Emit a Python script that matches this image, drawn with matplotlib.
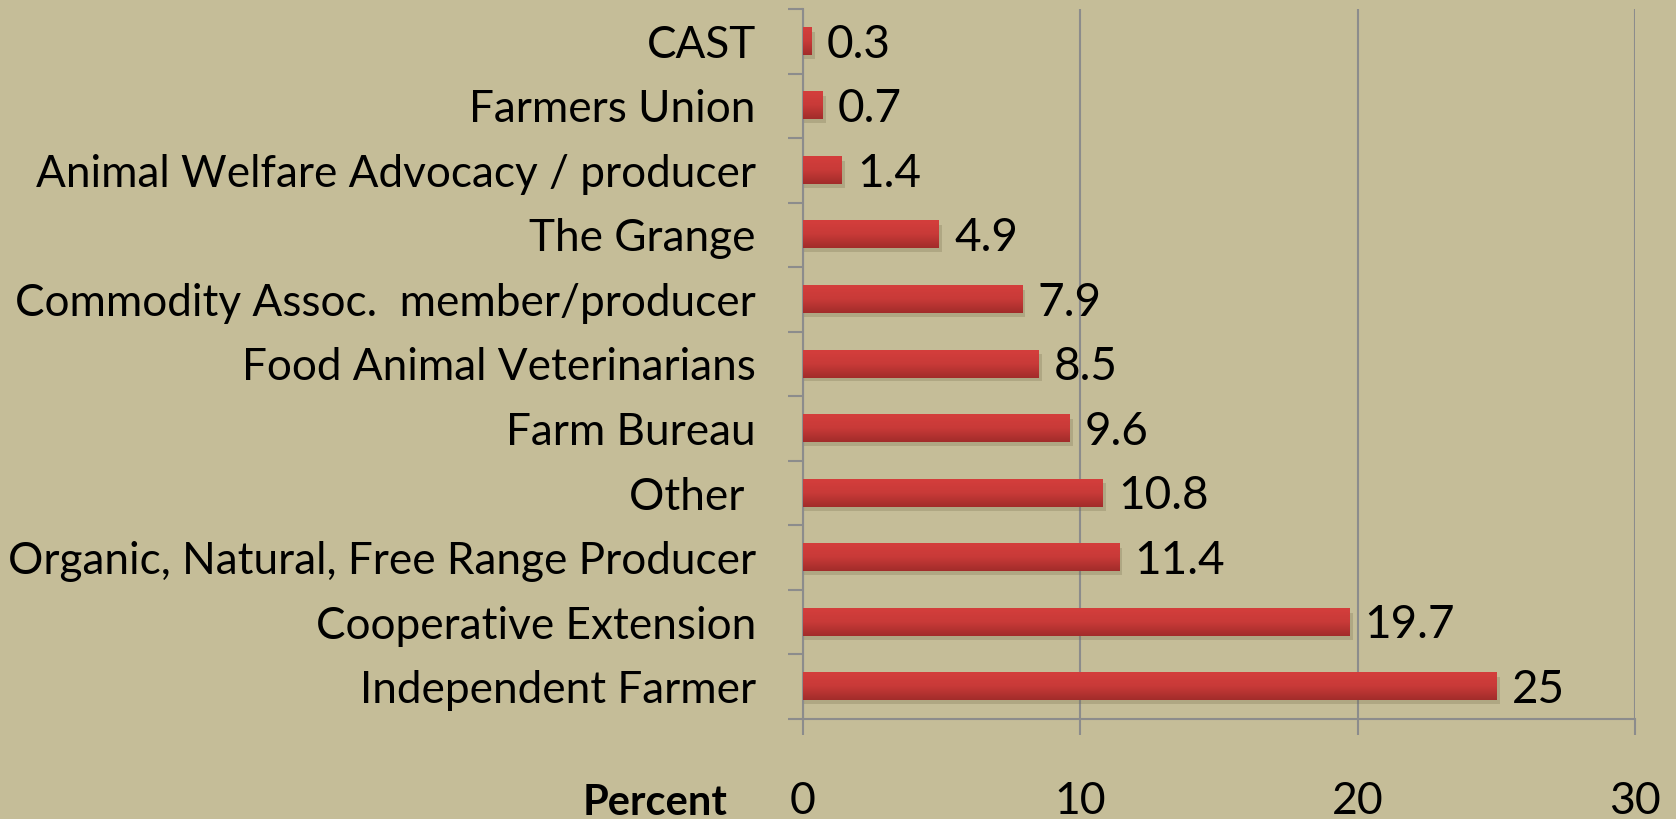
#! /usr/bin/env python3
import numpy as np
import matplotlib.pyplot as plt
from matplotlib.colors import LinearSegmentedColormap

plt.rcParams["font.family"] = ["Lato", "DejaVu Sans"]

groups = ["Independent Farmer", "Cooperative Extension",
          "Organic, Natural, Free Range Producer", "Other ",
          "Farm Bureau", "Food Animal Veterinarians",
          "Commodity Assoc.  member/producer", "The Grange",
          "Animal Welfare Advocacy / producer", "Farmers Union", "CAST"]
percent = [25, 19.7, 11.4, 10.8, 9.6, 8.5, 7.9, 4.9, 1.4, 0.7, 0.3]
value_labels = ["25", "19.7", "11.4", "10.8", "9.6", "8.5", "7.9", "4.9", "1.4", "0.7", "0.3"]
x_ticks = [0, 10, 20, 30]

bg = "#C5BD98"
grey = "#8C8C8C"

fig = plt.figure(figsize=(16.76, 8.19), dpi=100, facecolor=bg)
ax = fig.add_axes([803 / 1676, 100 / 819, 832 / 1676, 710 / 819])
ax.set_facecolor(bg)

y = np.arange(len(groups))
h = 0.42
grad = LinearSegmentedColormap.from_list("bar", ["#D43E3C", "#C83A38", "#A22C2A"])
g = np.linspace(0, 1, 64).reshape(-1, 1)

for yi, v, lab in zip(y, percent, value_labels):
    # soft shadow
    ax.barh(yi - 0.06, v + 0.12, height=h, left=0, color="#6E6848", alpha=0.25,
            linewidth=0, zorder=2)
    ax.imshow(g, cmap=grad, aspect="auto", origin="upper",
              extent=(0, v, yi - h / 2, yi + h / 2), zorder=3)
    ax.text(v + 0.55, yi - 0.05, lab, ha="left", va="center", fontsize=33, zorder=4)

ax.set_xlim(0, 30)
ax.set_ylim(-0.5, len(groups) - 0.5)

ax.set_xticks(x_ticks)
ax.set_xticklabels([str(t) for t in x_ticks], fontsize=32)
ax.tick_params(axis="x", length=11.5, width=1.5, color=grey, pad=33)
ax.xaxis.grid(True, color=grey, linewidth=1.5)
ax.set_axisbelow(True)

ax.set_yticks(y)
ax.set_yticklabels(groups, fontsize=31.8)
ax.set_yticks(np.arange(-0.5, len(groups), 1), minor=True)
ax.tick_params(axis="y", which="major", length=0, pad=34)
ax.tick_params(axis="y", which="minor", length=11, width=1.5, color=grey)

for s in ["top", "right"]:
    ax.spines[s].set_visible(False)
for s in ["left", "bottom"]:
    ax.spines[s].set_color(grey)
    ax.spines[s].set_linewidth(1.5)

fig.text(727 / 1676, -3 / 819, "Percent", ha="right", va="bottom",
         fontsize=30, fontweight="bold")

fig.savefig("out.png", facecolor=bg)
